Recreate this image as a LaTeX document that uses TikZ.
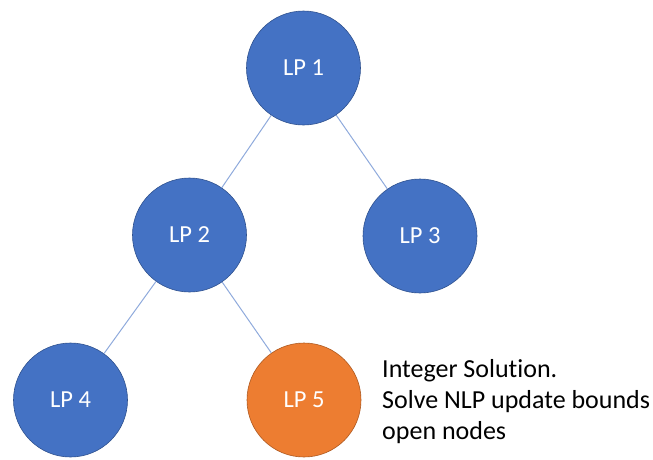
\documentclass[tikz,border=0pt]{standalone}
\usepackage{fontspec}
\setmainfont{Carlito}[Ligatures=NoCommon]
\usepackage{tikz}
\usetikzlibrary{positioning}

\definecolor{lpblue}{HTML}{4472C4}
\definecolor{lpblueline}{HTML}{2F528F}
\definecolor{lporange}{HTML}{ED7D31}
\definecolor{lporangeline}{HTML}{AE5A21}
\definecolor{edgeblue}{HTML}{8FAADC}

\begin{document}
\begin{tikzpicture}[x=1pt,y=-1pt,
    lpnode/.style={circle,draw=lpblueline,fill=lpblue,text=white,line width=0.6pt,
      minimum size=114pt,inner sep=0pt,font=\fontsize{24.5}{29}\selectfont},
    branch/.style={draw=edgeblue,line width=1pt}]

    \useasboundingbox (0,0) rectangle (653,459);

    % the tree
    \node[lpnode] (lp1) at (303.5,68) {LP 1};
    \node[lpnode] (lp2) at (189.5,235) {LP 2};
    \node[lpnode] (lp3) at (420,236) {LP 3};
    \node[lpnode] (lp4) at (70.5,400) {LP 4};
    \node[lpnode,fill=lporange,draw=lporangeline] (lp5) at (304,400) {LP 5};

    \draw[branch] (lp1) -- (lp2);
    \draw[branch] (lp1) -- (lp3);
    \draw[branch] (lp2) -- (lp4);
    \draw[branch] (lp2) -- (lp5);

    % remark on the integer node
    \node[anchor=north west,align=left,inner sep=0pt,
      font=\fontsize{26}{31}\selectfont] (note) at (382,359)
      {Integer Solution.\\Solve NLP update bounds\\open nodes};
\end{tikzpicture}
\end{document}
